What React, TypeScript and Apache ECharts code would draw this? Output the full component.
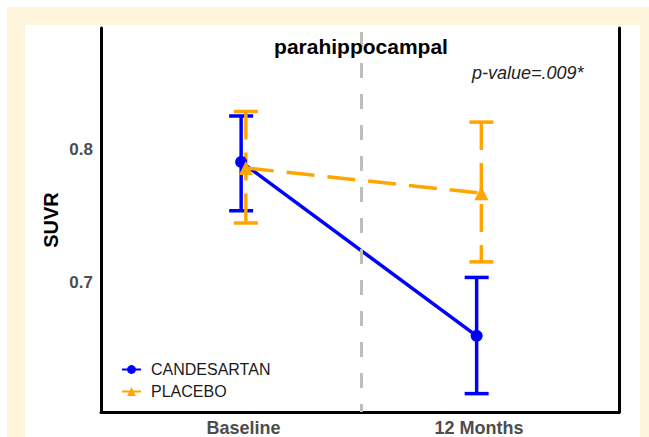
import React, { useEffect, useRef } from "react";
import * as echarts from "echarts";

const categories = ["Baseline", "12 Months"];
const seriesNames = ["CANDESARTAN", "PLACEBO"];
const candMean = [0.7905, 0.6598];
const candLow = [0.7538, 0.6164];
const candHigh = [0.825, 0.7037];
const placMean = [0.786, 0.767];
const placLow = [0.7446, 0.7154];
const placHigh = [0.8284, 0.8204];
const yTicks = [0.7, 0.8];
const titleText = "parahippocampal";
const pValueText = "p-value=.009*";

const BLUE = "#0000ff";
const ORANGE = "#ffa500";
const FONT = "Liberation Sans, Arial, sans-serif";

export default function App() {
  const ref = useRef<HTMLDivElement>(null);
  useEffect(() => {
    if (!ref.current) return;
    const chart = echarts.init(ref.current, undefined, { renderer: "svg" });
    const dodge = 0.01;
    const xPos = (i: number, d: number) => i + 1 + d;
    const lineData = (mean: number[], d: number) => mean.map((m, i) => [xPos(i, d), m]);
    const errData = (lo: number[], hi: number[], d: number) =>
      lo.map((l, i) => [xPos(i, d), l, hi[i]]);

    const errSeries = (name: string, data: number[][], color: string, dashed: boolean) => ({
      type: "custom",
      name,
      data,
      encode: { x: 0, y: [1, 2] },
      z: 3,
      renderItem: (_p: any, api: any) => {
        const x = api.value(0);
        const pLo = api.coord([x, api.value(1)]);
        const pHi = api.coord([x, api.value(2)]);
        const half = 12;
        const base = { stroke: color, lineWidth: 3.5, fill: null };
        return {
          type: "group",
          children: [
            {
              type: "line",
              shape: { x1: pHi[0], y1: pHi[1], x2: pLo[0], y2: pLo[1] },
              style: dashed ? { ...base, lineDash: [28, 13] } : base,
            },
            { type: "line", shape: { x1: pHi[0] - half, y1: pHi[1], x2: pHi[0] + half, y2: pHi[1] }, style: base },
            { type: "line", shape: { x1: pLo[0] - half, y1: pLo[1], x2: pLo[0] + half, y2: pLo[1] }, style: base },
          ],
        };
      },
    });

    const yMin = 0.6026;
    const yMax = 0.8911;

    chart.setOption({
      animation: false,
      backgroundColor: "#ffffff",
      graphic: [
        { type: "rect", z: -10, silent: true, shape: { x: 7, y: 7, width: 700, height: 500 }, style: { fill: "#fdf6dc" } },
        { type: "rect", z: -9, silent: true, shape: { x: 25, y: 25, width: 615, height: 500 }, style: { fill: "#ffffff" } },
        {
          type: "text", x: 361, y: 46, z: 10,
          style: { text: titleText, font: `bold 21px ${FONT}`, fill: "#000000", align: "center", verticalAlign: "middle" },
        },
        {
          type: "text", x: 472, y: 73, z: 10,
          style: { text: pValueText, font: `italic 18px ${FONT}`, fill: "#222222", align: "left", verticalAlign: "middle" },
        },
      ],
      grid: { left: 101, right: 30, top: 28, bottom: 21 },
      legend: {
        orient: "vertical",
        left: 121,
        top: 361,
        padding: 0,
        itemWidth: 19,
        itemHeight: 11,
        itemGap: 5,
        textStyle: { fontFamily: FONT, fontSize: 16, color: "#1a1a1a", lineHeight: 17, padding: [0, 0, 0, 5] },
        data: [
          { name: seriesNames[0] },
          { name: seriesNames[1], lineStyle: { type: "solid" } },
        ],
      },
      xAxis: {
        type: "value",
        min: 0.3949,
        max: 2.5945,
        splitLine: { show: false },
        axisLine: { show: true, onZero: false, lineStyle: { color: "#000", width: 3 } },
        axisTick: { show: false },
        axisLabel: {
          customValues: [1, 2],
          formatter: (v: number) => categories[Math.round(v) - 1] ?? "",
          fontFamily: FONT,
          fontSize: 18,
          fontWeight: "bold",
          color: "#4d4d4d",
          margin: 7,
        },
      },
      yAxis: [
        {
          type: "value",
          min: yMin,
          max: yMax,
          name: "SUVR",
          nameLocation: "middle",
          nameGap: 40,
          nameMoveOverlap: false,
          nameTextStyle: { fontFamily: FONT, fontSize: 20, fontWeight: "bold", color: "#000" },
          splitLine: { show: false },
          axisLine: { show: true, onZero: false, lineStyle: { color: "#000", width: 3 } },
          axisTick: { show: false },
          axisLabel: {
            customValues: yTicks,
            formatter: (v: number) => v.toFixed(1),
            fontFamily: FONT,
            fontSize: 17,
            fontWeight: "bold",
            color: "#4d4d4d",
            margin: 8,
          },
        },
        {
          type: "value",
          position: "right",
          min: yMin,
          max: yMax,
          splitLine: { show: false },
          axisLine: { show: true, onZero: false, lineStyle: { color: "#000", width: 3 } },
          axisTick: { show: false },
          axisLabel: { show: false },
        },
      ],
      series: [
        {
          type: "line",
          name: "divider",
          data: [],
          markLine: {
            silent: true,
            symbol: "none",
            label: { show: false },
            lineStyle: { color: "#bebebe", width: 3, type: [15, 16], dashOffset: 7 },
            data: [{ xAxis: 1.5 }],
          },
        },
        errSeries("CANDESARTAN-err", errData(candLow, candHigh, -dodge), BLUE, false),
        {
          type: "line",
          name: seriesNames[0],
          data: lineData(candMean, -dodge),
          symbol: "circle",
          symbolSize: 12,
          z: 4,
          lineStyle: { color: BLUE, width: 3.5 },
          itemStyle: { color: BLUE },
        },
        errSeries("PLACEBO-err", errData(placLow, placHigh, dodge), ORANGE, true),
        {
          type: "line",
          name: seriesNames[1],
          data: lineData(placMean, dodge),
          symbol: "triangle",
          symbolSize: 14,
          z: 5,
          lineStyle: { color: ORANGE, width: 3.5, type: [28, 13] },
          itemStyle: { color: ORANGE },
        },
      ],
    });
    return () => chart.dispose();
  }, []);
  return <div ref={ref} style={{ position: "absolute", left: 0, top: 0, width: 649, height: 437 }} />;
}
